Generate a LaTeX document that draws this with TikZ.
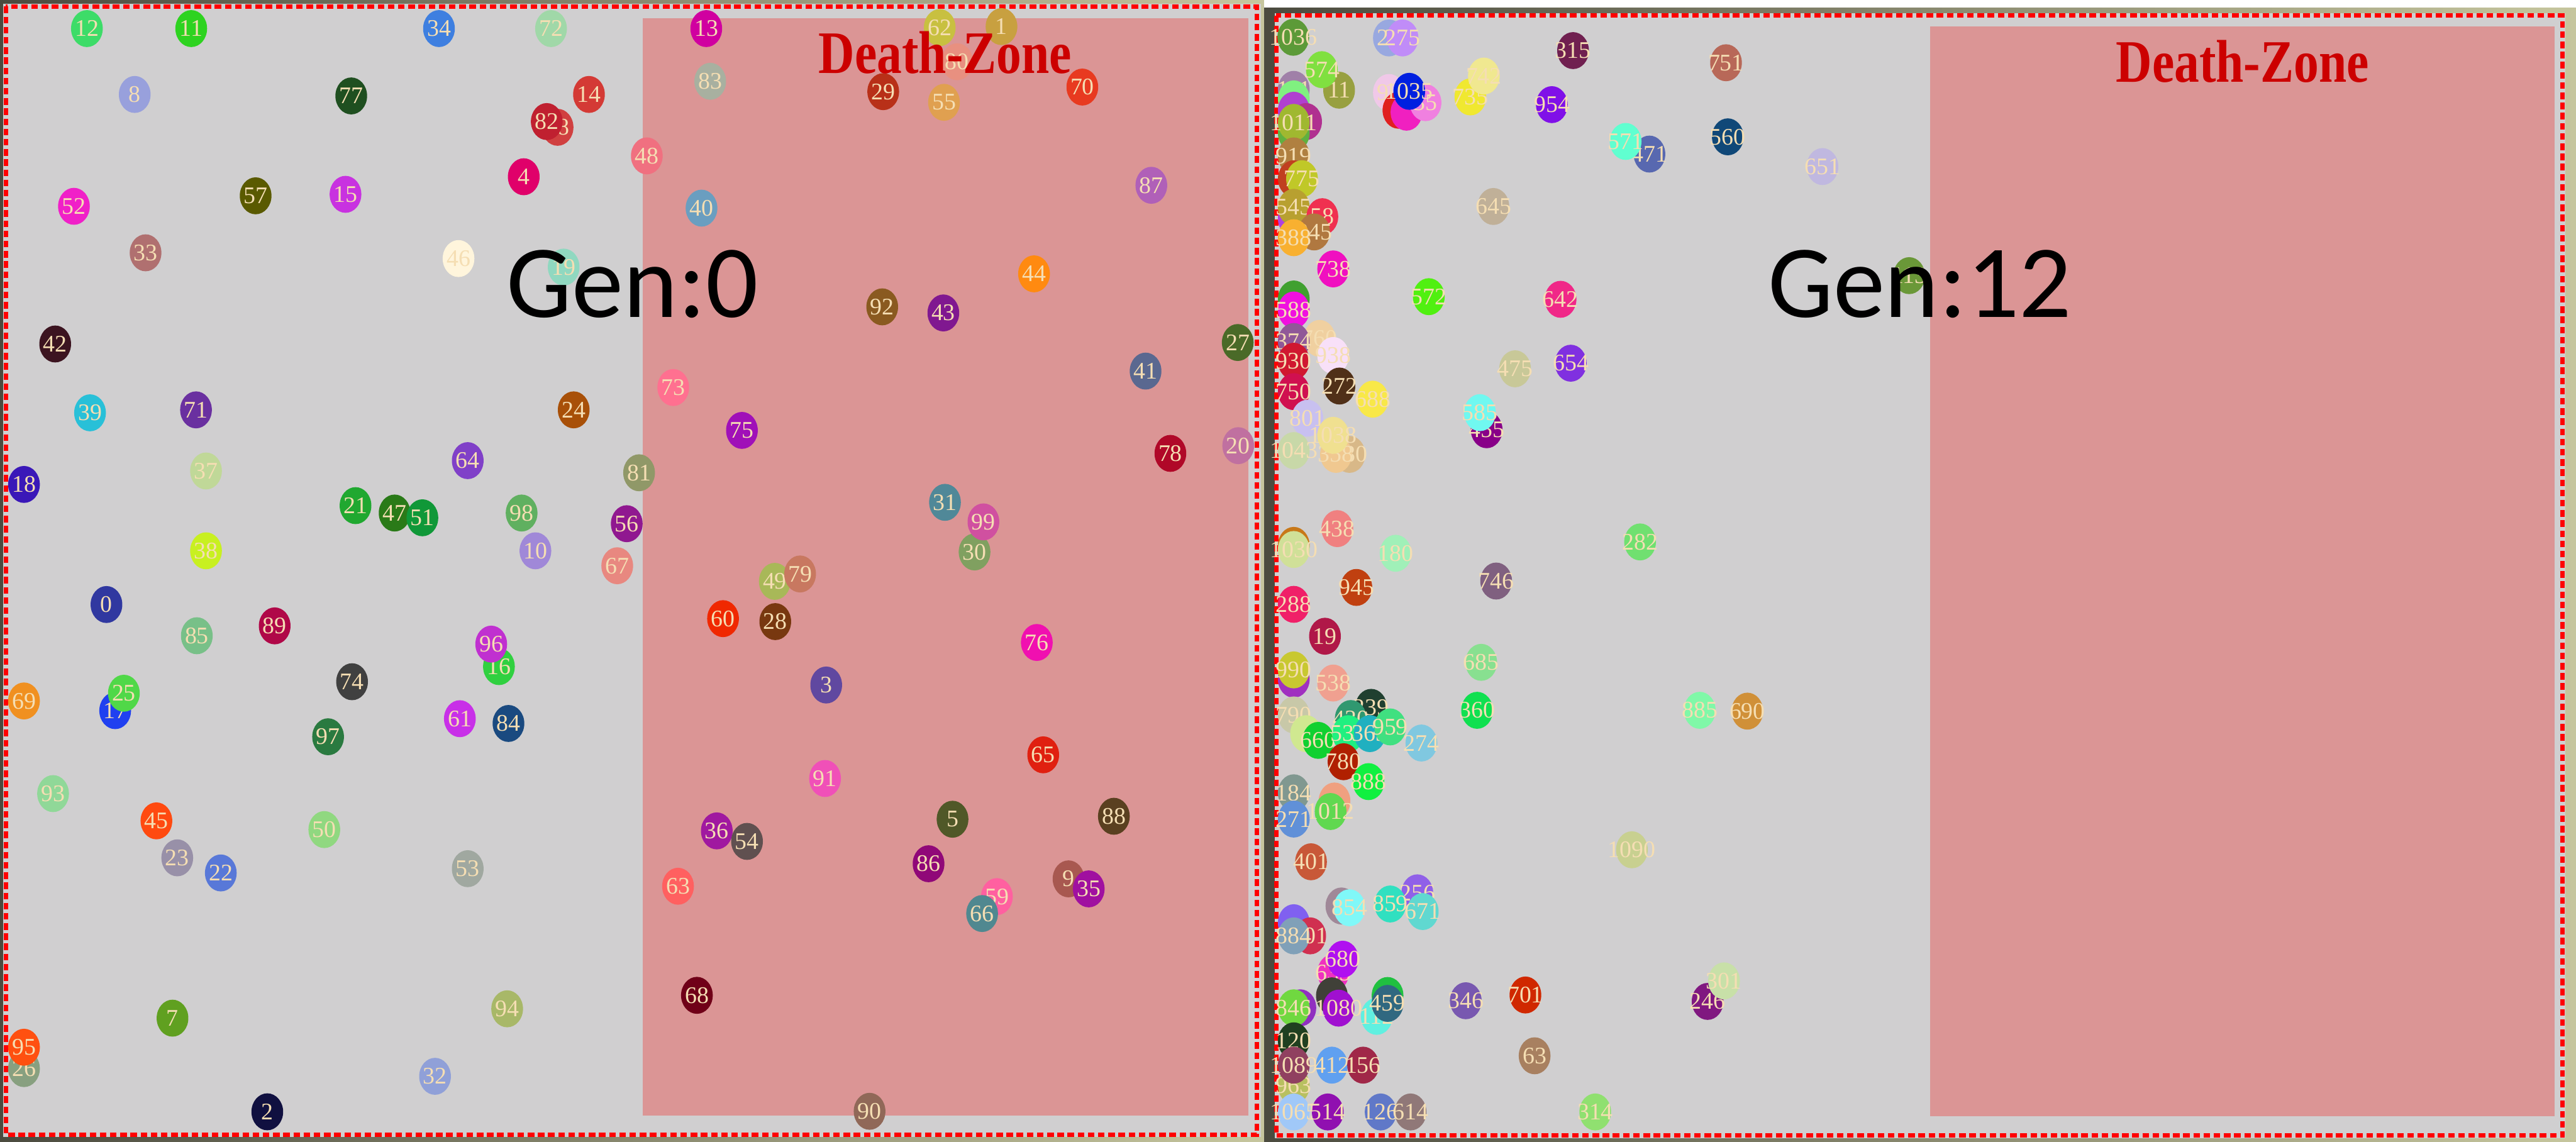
\documentclass[tikz,border=0pt]{standalone}
\usepackage{fontspec}
\setmainfont{Liberation Serif}
\newfontfamily\genfont{Carlito}
\usepackage{tikz}
\usetikzlibrary{shapes.geometric}

\definecolor{frameDark}{HTML}{4B4B3F}
\definecolor{frameLight}{HTML}{C6C69E}
\definecolor{panelGray}{HTML}{D0CFD0}
\definecolor{zonePink}{HTML}{DB9595}
\definecolor{zoneRed}{HTML}{CC0000}
\definecolor{ballText}{HTML}{F5DEB3}

\begin{document}
\begin{tikzpicture}[
    x=1pt, y=-1pt,
    ball/.style={ellipse, fill=#1, minimum width=19.3pt, minimum height=22.5pt,
        inner sep=0pt, text=ballText, font=\fontsize{14.5}{14.5}\selectfont},
    border/.style={red, line width=2.6pt, dash pattern=on 4pt off 2.2pt},
    gen/.style={anchor=base, font=\genfont\fontsize{63}{63}\selectfont},
    zone/.style={anchor=base, text=zoneRed, xscale=0.83,
        font=\bfseries\fontsize{36.7}{36.7}\selectfont}
]
\useasboundingbox (0,0) rectangle (1568,695);

% left panel: generation 0
\fill[left color=frameDark, right color=frameLight] (0,0) rectangle (769.5,695);
\fill[panelGray] (2,2.3) rectangle (767.6,692.3);
\fill[zonePink] (391.3,11) rectangle (759.8,679);
\draw[border] (3.5,4) rectangle (765,690.7);

% right panel: generation 12
\fill[white] (769.5,0) rectangle (1568,4.6);
\fill[left color=frameDark, right color=frameLight] (769.5,4.6) rectangle (1568,695);
\fill[frameDark] (769.5,4.6) rectangle (775.8,695);
\fill[panelGray] (775.8,8) rectangle (1561.5,692.8);
\fill[zonePink] (1175,16.2) rectangle (1555,679.5);
\draw[border] (776.8,9.5) rectangle (1559.8,691.2);

% individuals, generation 0
\foreach \x/\y/\col/\lab [count=\i] in {
  52.9/17.4/3DDC68/12, 116.4/17.4/2ED320/11, 267.2/17.4/3E7FE0/34, 335.4/17.4/A0D8A8/72,
  82/57.5/98A0DC/8, 213.8/58.4/1F4F20/77, 358.5/57.5/D43A35/14, 339.4/77.5/D04040/58,
  332.8/74/C02030/82, 318.8/107.6/E0006A/4, 393.7/94.9/F07080/48, 45/125.6/F020C8/52,
  155.6/119.2/5A5A00/57, 210.3/118.3/C832E0/15, 88.6/153.9/B07070/33, 279.1/157.4/FFF5DC/46,
  343.1/162.6/90D8C0/19, 429.9/17.4/D000A0/13, 572/16.8/C8C040/62, 609.6/16.2/C8A040/1,
  582.6/37.6/E89080/80, 432.3/49.5/A8B0A0/83, 537.6/55.8/B83018/29, 574.6/62.3/E0A050/55,
  658.8/53/E83A20/70, 427/126.7/6A9EC0/40, 700.8/112.8/B060B8/87, 629.4/166.7/FF8A10/44,
  33.6/209.4/3C1420/42, 54.8/251.3/28C0D8/39, 119.3/249.5/6A30A0/71, 349.2/249.5/A85008/24,
  409.8/235.9/FF7090/73, 14.6/294.9/3A18B8/18, 125.4/286.7/C0D898/37, 284.7/280.4/8040C8/64,
  389/287.8/909868/81, 216.4/307.8/20A830/21, 240.2/312.3/2A7A18/47, 257.1/315.2/109838/51,
  317.5/312.3/60B060/98, 381.5/318.8/901890/56, 325.9/335.3/A088D8/10, 375.7/344.4/E88880/67,
  125.4/335.3/C8F020/38, 64.8/368/3038A0/0, 167.2/381/B00848/89, 119.8/387/78C088/85,
  303.7/405.8/30D040/16, 299/392.1/C030D0/96, 214.3/415/404040/74, 14.6/426.7/F09020/69,
  70.1/432.6/2040F0/17, 75.4/422/50D848/25, 199.7/448.5/2A7A40/97, 279.9/437.5/C830E8/61,
  309.5/440.4/1A4A80/84, 32.3/483.1/90D898/93, 95.2/499.7/FF4A10/45, 197.4/505/90D880/50,
  107.9/522.2/9890A8/23, 134.4/531.4/5878D8/22, 284.7/528.8/A0A8A0/53, 412.7/539.5/FF6060/63,
  105/619.8/60A020/7, 308.7/614.1/A8B868/94, 14.6/650.5/88A080/26, 14.6/637.5/FF5010/95,
  264.8/655.2/90A0D8/32, 162.7/676.8/101040/2, 537/186.8/8A5A20/92, 574.2/190.5/801890/43,
  753.4/208.5/4A6A28/27, 697.3/225.9/5A6890/41, 451.6/262/A010B8/75, 712.4/276/B00828/78,
  753.7/271.3/C070A0/20, 575.2/305.8/508898/31, 593.2/336/80A060/30, 598.6/317.7/D050A0/99,
  471.6/353.9/A8B858/49, 487/349.4/C87860/79, 440.1/376.6/F02800/60, 471.9/378.4/783810/28,
  631.1/391.1/F010B0/76, 502.9/417/6048A0/3, 635/459.5/E02010/65, 502.2/473.9/F050B8/91,
  579.8/498.7/505828/5, 678/496.9/5A4020/88, 436.3/505.8/A018A0/36, 454.7/512.2/605050/54,
  565.2/525.8/900878/86, 650.4/535/A85850/9, 662.7/541.1/A010A0/35, 606.8/545.8/FF60A0/59,
  597.8/556.1/508890/66, 424.2/605.9/700018/68, 529.3/676.5/906858/90}
{
  \definecolor{ballc}{HTML}{\col}
  \node[ball=ballc] (g0-\i) at (\x,\y) {\makebox[0pt]{\lab}};
}

% individuals, generation 12
\foreach \x/\y/\col/\lab [count=\i] in {
  787.2/22.7/5C9A38/1036, 845.4/23.1/98A8E0/22, 853.7/23.1/C08CF8/275, 957.5/30.8/702050/315,
  787.5/54.4/A080A8/111, 815.1/54.9/98A040/11, 804.6/42.4/80E040/574, 845.4/56.3/F0C8E8/93,
  851.2/67.1/E02020/, 856.1/68.3/F020C0/, 867.7/62.5/F080E0/35, 857.8/55.6/0020E0/1035,
  895/59/F0E830/735, 903.2/46.3/F0E890/742, 944.6/63.7/8010E8/954, 1004/93.8/5868B0/471,
  989.5/86.1/60FFD0/571, 787.5/60.2/80F080/, 787.5/67.1/B040D0/, 795/74/B03090/,
  787.5/81/60B040/, 787.5/74.5/A0B830/1011, 787.5/94.9/B08040/919, 787.5/108.8/C04020/,
  792.5/108.8/C0C828/775, 787.5/133.1/B040E0/, 787.5/126.2/B8A030/545, 804.9/131.9/F03050/58,
  799.9/141.2/B07840/845, 787.5/144.7/F8B030/388, 811.5/163.7/F010C0/738, 909/125.7/C0B098/645,
  869.7/180.6/50F010/572, 949.9/182.2/F02888/642, 787.5/182/40A030/, 787.5/188.7/F010E0/588,
  803.2/206/F0D0A0/760, 787.5/207.9/905898/374, 811.5/216.4/F8E0F8/938, 787.5/219.9/D01830/930,
  815.3/235/503018/272, 787.5/238.4/D01050/750, 835.5/243/F8E848/688, 795.8/254.6/C8C0F0/801,
  787.5/274.3/C8D8A8/1043, 821.4/276.6/D8B888/580, 813.2/276.6/F0C890/358, 811.5/265/F0E090/1038,
  904.9/261.6/880088/455, 900.8/251.2/70F8F0/585, 922.2/224.5/C8C898/475, 956.1/221.1/8030E0/654,
  814/321.8/F08080/438, 787.5/332/C87818/, 787.5/334.5/D0E098/1030, 849.5/336.8/A0F0B8/180,
  998.3/329.9/70E070/282, 910.7/353.7/806080/746, 825.6/357.6/C04010/945, 787.5/367.9/F02068/288,
  806.5/387.3/B01848/19, 787.5/413.5/A030C0/, 787.5/407.8/C8C830/990, 811.5/415.8/F0A090/538,
  901.6/403.2/88E090/685, 899.1/432.4/10E050/360, 834.6/430.6/204030/239, 822.2/437.4/309870/430,
  787.5/435.2/C8C8A8/790, 795/446.6/D0E890/, 802.4/450.7/10D030/660, 820.6/446.6/20F080/536,
  833.8/446.6/20B0C0/363, 846.2/442.5/40E080/959, 865.2/452.3/80C8E0/274, 817.8/463.7/B02000/780,
  833/475.8/10F040/888, 787.5/482.6/809890/184, 812.3/487.6/F0A080/, 809.9/494/60D850/1012,
  787.5/498.6/6090D8/271, 798/524.6/C85838/401, 993.3/517.3/C8D090/1090, 816.5/551.5/A08898/,
  821.4/552.6/80F8F8/854, 862.7/543.5/9060E8/256, 846.2/550.3/30E0C0/859, 866/554.9/60D8D0/671,
  787.5/561.7/8060F0/, 797.5/569.7/D03050/901, 787.5/569.7/80A0B8/884, 811.5/592.1/F030C0/635,
  817.3/583.9/B010F0/680, 791.5/613.5/9030C0/, 787.5/613.5/70D840/846, 810.7/606.2/404038/,
  838/618.7/60F0E0/112, 814.8/613.7/A010D0/1080, 844.6/606/20C040/, 844.6/610.8/306880/459,
  892.2/609.2/7858B0/346, 928.5/605.7/D02800/701, 934.1/642.7/A88060/63, 971/676.9/90E070/314,
  787.5/633.6/204020/120, 787.5/660.9/B8C060/963, 787.5/648.4/904060/1089, 810.7/648.4/60A0F0/412,
  829.7/648.4/A02848/156, 787.5/676.9/A0C8F8/1065, 808.2/676.9/9010B0/514, 840.4/676.9/6078C8/126,
  858.6/676.9/907878/614, 1050.6/38.2/B86858/751, 1051.7/83.3/104878/560, 1109.3/101.4/C0B8E0/651,
  1162.1/167.8/6A9838/113, 1034.6/432.4/80F8A8/885, 1063.6/432.9/D09038/690, 1039.4/609.6/801880/246,
  1049.4/597.1/C8E0A8/301}
{
  \definecolor{ballc}{HTML}{\col}
  \node[ball=ballc] (g12-\i) at (\x,\y) {\makebox[0pt]{\lab}};
}

% titles
\node[zone] (zone0) at (575.3,44.6) {Death-Zone};
\node[zone] (zone12) at (1365,49.8) {Death-Zone};
\node[gen] (gen0) at (385,193.2) {Gen:0};
\node[gen] (gen12) at (1168.6,193.3) {Gen:12};
\end{tikzpicture}
\end{document}
